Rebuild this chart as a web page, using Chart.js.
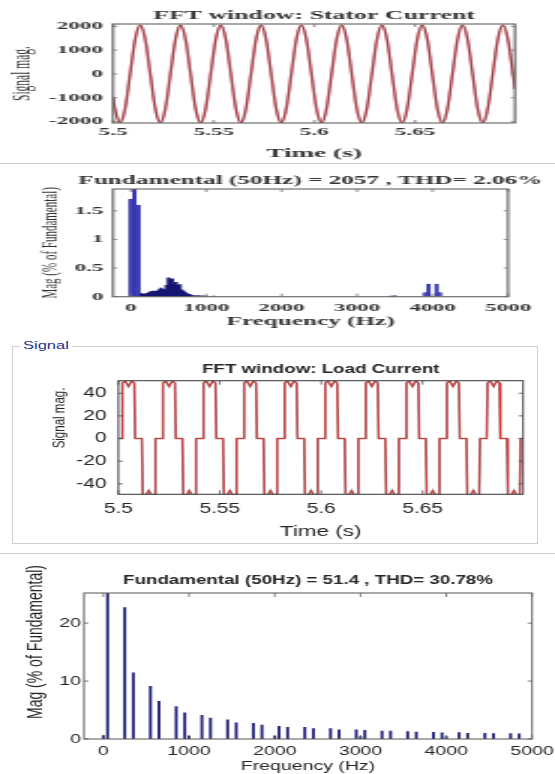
<!DOCTYPE html>
<html>
<head>
<meta charset="utf-8">
<script src="https://cdn.jsdelivr.net/npm/chart.js@4.4.1/dist/chart.umd.min.js"></script>
<style>
  html, body { margin: 0; padding: 0; background: #fff; }
  #page { position: relative; width: 555px; height: 774px; overflow: hidden; background: #fff; }
  canvas { position: absolute; left: 0; transform-origin: 0 0; }
  .rule { position: absolute; left: 0; width: 555px; height: 1px; background: #cbcbcb; }
  #groupbox { position: absolute; left: 12px; top: 346px; width: 526px; height: 198px; border: 1px solid #d0d0d0; box-sizing: border-box; }
  #grouplabel { position: absolute; left: 20px; top: 339px; padding: 0 2px; background: #fff;
    font: 11px "Liberation Sans", Arial, sans-serif; color: #22308a; transform: scaleX(1.5); transform-origin: 0 0; }
</style>
</head>
<body>
<div id="page">
  <div class="rule" style="top:163px"></div>
  <div class="rule" style="top:553px"></div>
  <div id="groupbox"></div>
  <span id="grouplabel">Signal</span>
  <canvas id="stator-signal" width="264" height="165" style="top:0px; transform:scaleX(2.1)"></canvas>
  <canvas id="stator-fft" width="264" height="165" style="top:165px; transform:scaleX(2.1)"></canvas>
  <canvas id="load-signal" width="370" height="195" style="top:350px; transform:scaleX(1.5)"></canvas>
  <canvas id="load-fft" width="370" height="219" style="top:555px; transform:scaleX(1.5)"></canvas>
</div>
<script>
// ============================
// DATA
// ============================

// panel 1 - stator current, time domain (read at 1/8 period steps)
const statorTime = [
  5.5000,
  5.5010, 5.5035, 5.5060, 5.5085, 5.5110, 5.5135, 5.5160, 5.5185,
  5.5210, 5.5235, 5.5260, 5.5285, 5.5310, 5.5335, 5.5360, 5.5385,
  5.5410, 5.5435, 5.5460, 5.5485, 5.5510, 5.5535, 5.5560, 5.5585,
  5.5610, 5.5635, 5.5660, 5.5685, 5.5710, 5.5735, 5.5760, 5.5785,
  5.5810, 5.5835, 5.5860, 5.5885, 5.5910, 5.5935, 5.5960, 5.5985,
  5.6010, 5.6035, 5.6060, 5.6085, 5.6110, 5.6135, 5.6160, 5.6185,
  5.6210, 5.6235, 5.6260, 5.6285, 5.6310, 5.6335, 5.6360, 5.6385,
  5.6410, 5.6435, 5.6460, 5.6485, 5.6510, 5.6535, 5.6560, 5.6585,
  5.6610, 5.6635, 5.6660, 5.6685, 5.6710, 5.6735, 5.6760, 5.6785,
  5.6810, 5.6835, 5.6860, 5.6885, 5.6910, 5.6935, 5.6960, 5.6985,
  5.6995
];
const statorAmp = [
  -960,
  -1455, -2057, -1455, 0, 1455, 2057, 1455, 0,
  -1455, -2057, -1455, 0, 1455, 2057, 1455, 0,
  -1455, -2057, -1455, 0, 1455, 2057, 1455, 0,
  -1455, -2057, -1455, 0, 1455, 2057, 1455, 0,
  -1455, -2057, -1455, 0, 1455, 2057, 1455, 0,
  -1455, -2057, -1455, 0, 1455, 2057, 1455, 0,
  -1455, -2057, -1455, 0, 1455, 2057, 1455, 0,
  -1455, -2057, -1455, 0, 1455, 2057, 1455, 0,
  -1455, -2057, -1455, 0, 1455, 2057, 1455, 0,
  -1455, -2057, -1455, 0, 1455, 2057, 1455, 0,
  -640
];
const timeTicks = [5.5, 5.55, 5.6, 5.65];
const timeLabels = ["5.5", "5.55", "5.6", "5.65"];
const statorAmpTicks = [-2000, -1000, 0, 1000, 2000];
const statorAmpLabels = ["-2000", "-1000", "0", "1000", "2000"];

// panel 2 - stator current spectrum (% of fundamental)
const statorFreqMain = [0, 50, 100, 3900, 3950, 4050, 4100];
const statorMagMain = [1.70, 100, 1.60, 0.07, 0.22, 0.22, 0.07];
const statorFreqLow = [125, 150, 175, 200, 225, 250, 275, 300, 325, 350, 375, 400, 425, 450, 475,
  500, 525, 550, 575, 600, 625, 650, 675, 700, 725, 750, 775, 800, 850, 900, 950, 1000, 1100, 3450, 3500];
const statorMagLow = [0.06, 0.05, 0.04, 0.05, 0.06, 0.08, 0.09, 0.10, 0.09, 0.10, 0.12, 0.15, 0.13, 0.12, 0.20,
  0.33, 0.30, 0.31, 0.22, 0.25, 0.20, 0.21, 0.12, 0.10, 0.07, 0.05, 0.04, 0.03, 0.02, 0.02, 0.015, 0.01, 0.01, 0.01, 0.015];
const freqTicks = [0, 1000, 2000, 3000, 4000, 5000];
const freqLabels = ["0", "1000", "2000", "3000", "4000", "5000"];
const statorMagTicks = [0, 0.5, 1, 1.5];
const statorMagLabels = ["0", "0.5", "1", "1.5"];

// panel 3 - load current, time domain
const loadTime = [
  5.5000,
  5.5016, 5.5020, 5.5033, 5.5050, 5.5066, 5.5079, 5.5083, 5.5116, 5.5120, 5.5133, 5.5150, 5.5166, 5.5179, 5.5183,
  5.5216, 5.5220, 5.5233, 5.5250, 5.5266, 5.5279, 5.5283, 5.5316, 5.5320, 5.5333, 5.5350, 5.5366, 5.5379, 5.5383,
  5.5416, 5.5420, 5.5433, 5.5450, 5.5466, 5.5479, 5.5483, 5.5516, 5.5520, 5.5533, 5.5550, 5.5566, 5.5579, 5.5583,
  5.5616, 5.5620, 5.5633, 5.5650, 5.5666, 5.5679, 5.5683, 5.5716, 5.5720, 5.5733, 5.5750, 5.5766, 5.5779, 5.5783,
  5.5816, 5.5820, 5.5833, 5.5850, 5.5866, 5.5879, 5.5883, 5.5916, 5.5920, 5.5933, 5.5950, 5.5966, 5.5979, 5.5983,
  5.6016, 5.6020, 5.6033, 5.6050, 5.6066, 5.6079, 5.6083, 5.6116, 5.6120, 5.6133, 5.6150, 5.6166, 5.6179, 5.6183,
  5.6216, 5.6220, 5.6233, 5.6250, 5.6266, 5.6279, 5.6283, 5.6316, 5.6320, 5.6333, 5.6350, 5.6366, 5.6379, 5.6383,
  5.6416, 5.6420, 5.6433, 5.6450, 5.6466, 5.6479, 5.6483, 5.6516, 5.6520, 5.6533, 5.6550, 5.6566, 5.6579, 5.6583,
  5.6616, 5.6620, 5.6633, 5.6650, 5.6666, 5.6679, 5.6683, 5.6716, 5.6720, 5.6733, 5.6750, 5.6766, 5.6779, 5.6783,
  5.6816, 5.6820, 5.6833, 5.6850, 5.6866, 5.6879, 5.6883, 5.6916, 5.6920, 5.6933, 5.6950, 5.6966, 5.6979, 5.6983,
  5.6995
];
const loadAmp = [
  0,
  0, 49, 51, 46, 51, 49, 0, 0, -49, -51, -46, -51, -49, 0,
  0, 49, 51, 46, 51, 49, 0, 0, -49, -51, -46, -51, -49, 0,
  0, 49, 51, 46, 51, 49, 0, 0, -49, -51, -46, -51, -49, 0,
  0, 49, 51, 46, 51, 49, 0, 0, -49, -51, -46, -51, -49, 0,
  0, 49, 51, 46, 51, 49, 0, 0, -49, -51, -46, -51, -49, 0,
  0, 49, 51, 46, 51, 49, 0, 0, -49, -51, -46, -51, -49, 0,
  0, 49, 51, 46, 51, 49, 0, 0, -49, -51, -46, -51, -49, 0,
  0, 49, 51, 46, 51, 49, 0, 0, -49, -51, -46, -51, -49, 0,
  0, 49, 51, 46, 51, 49, 0, 0, -49, -51, -46, -51, -49, 0,
  0, 49, 51, 46, 51, 49, 0, 0, -49, -51, -46, -51, -49, 0,
  0
];
const loadAmpTicks = [-40, -20, 0, 20, 40];
const loadAmpLabels = ["-40", "-20", "0", "20", "40"];

// panel 4 - load current spectrum (% of fundamental)
const loadFreq = [0, 50, 250, 350, 550, 650, 850, 950, 1000, 1150, 1250, 1450, 1550, 1750, 1850,
  2000, 2050, 2150, 2350, 2450, 2650, 2750, 2950, 3000, 3050, 3250, 3350, 3550, 3650,
  3850, 3950, 4000, 4150, 4250, 4450, 4550, 4750, 4850];
const loadMag = [0.6, 100, 22.7, 11.4, 9.1, 6.5, 5.6, 4.5, 0.5, 4.1, 3.6, 3.3, 2.8, 2.7, 2.4,
  0.5, 2.2, 2.0, 2.0, 1.8, 1.8, 1.6, 1.6, 0.4, 1.5, 1.35, 1.35, 1.3, 1.2,
  1.15, 1.05, 0.4, 1.1, 1.0, 1.0, 0.95, 0.95, 0.9];
const loadMagTicks = [0, 10, 20];
const loadMagLabels = ["0", "10", "20"];

// ============================
// HELPERS
// ============================

const SERIF = "'Liberation Serif', 'Times New Roman', serif";
const SANS = "'Liberation Sans', Arial, sans-serif";

function toPoints(xs, ys) {
  return xs.map((x, i) => ({ x, y: ys[i] }));
}

// MATLAB style frame with inward ticks on all four sides
const matlabBox = {
  id: "matlabBox",
  afterDatasetsDraw(chart, args, opts) {
    const { ctx, chartArea: a } = chart;
    const x = chart.scales.x;
    const y = chart.scales.y;
    ctx.save();
    ctx.strokeStyle = opts.color;
    ctx.lineWidth = opts.width;
    ctx.strokeRect(a.left, a.top, a.right - a.left, a.bottom - a.top);
    ctx.lineWidth = opts.tickWidth;
    ctx.beginPath();
    x.ticks.forEach(t => {
      const px = x.getPixelForValue(t.value);
      ctx.moveTo(px, a.bottom);
      ctx.lineTo(px, a.bottom - opts.tickY);
      ctx.moveTo(px, a.top);
      ctx.lineTo(px, a.top + opts.tickY);
    });
    y.ticks.forEach(t => {
      const py = y.getPixelForValue(t.value);
      ctx.moveTo(a.left, py);
      ctx.lineTo(a.left + opts.tickX, py);
      ctx.moveTo(a.right, py);
      ctx.lineTo(a.right - opts.tickX, py);
    });
    ctx.stroke();
    ctx.restore();
  }
};

// title and y label drawn as free text, MATLAB places them a bit off the chart.js spots
function textPlugin(items) {
  return {
    id: "panelText",
    afterDraw(chart) {
      const { ctx, chartArea: a } = chart;
      items.forEach(item => {
        ctx.save();
        ctx.font = item.font;
        ctx.fillStyle = item.color;
        ctx.textAlign = "center";
        ctx.textBaseline = "middle";
        const x = item.x === "center" ? (a.left + a.right) / 2 : item.x;
        const y = item.y === "middle" ? (a.top + a.bottom) / 2 : item.y;
        ctx.translate(x, y);
        if (item.rotate) ctx.rotate(-Math.PI / 2);
        ctx.fillText(item.text, 0, 0);
        ctx.restore();
      });
    }
  };
}

function makePanel(id, cfg) {
  return new Chart(document.getElementById(id), {
    type: cfg.type,
    data: { datasets: cfg.datasets },
    options: {
      responsive: false,
      animation: false,
      events: [],
      layout: { padding: { left: 0, right: cfg.padRight, top: cfg.padTop, bottom: 0 } },
      plugins: {
        legend: { display: false },
        tooltip: { enabled: false },
        title: { display: false },
        matlabBox: cfg.box
      },
      scales: {
        x: {
          type: "linear",
          offset: false,
          min: cfg.xMin,
          max: cfg.xMax,
          afterBuildTicks: s => { s.ticks = cfg.xTicks.map(v => ({ value: v })); },
          afterFit: s => { s.height = cfg.xHeight; s.paddingLeft = 0; s.paddingRight = 0; },
          grid: { display: false, drawTicks: false },
          border: { display: false },
          ticks: {
            autoSkip: false,
            maxRotation: 0,
            padding: cfg.xTickPad,
            color: cfg.color,
            font: cfg.tickFont,
            callback: (v, i) => cfg.xLabels[i]
          },
          title: {
            display: true,
            text: cfg.xTitle,
            color: cfg.color,
            font: cfg.xTitleFont,
            padding: { top: 0, bottom: cfg.xTitlePad }
          }
        },
        y: {
          min: cfg.yMin,
          max: cfg.yMax,
          afterBuildTicks: s => { s.ticks = cfg.yTicks.map(v => ({ value: v })); },
          afterFit: s => { s.width = cfg.yWidth; s.paddingTop = 0; s.paddingBottom = 0; },
          grid: { display: false, drawTicks: false },
          border: { display: false },
          ticks: {
            padding: cfg.yTickPad,
            color: cfg.color,
            font: cfg.tickFont,
            callback: (v, i) => cfg.yLabels[i]
          },
          title: { display: false }
        }
      }
    },
    plugins: [matlabBox, textPlugin(cfg.texts)]
  });
}

// ============================
// PANEL 1 - STATOR CURRENT
// ============================

makePanel("stator-signal", {
  type: "line",
  datasets: [
    {
      data: toPoints(statorTime, statorAmp),
      borderColor: "#4d3a3c",
      borderWidth: 0.6,
      pointRadius: 0,
      cubicInterpolationMode: "monotone"
    },
    {
      data: toPoints(statorTime, statorAmp),
      borderColor: "rgba(228, 58, 70, 0.85)",
      borderWidth: 1.4,
      pointRadius: 0,
      cubicInterpolationMode: "monotone"
    }
  ],
  padRight: 18.8,
  padTop: 24,
  color: "#333",
  texts: [
    { text: "FFT window: Stator Current", x: "center", y: 16, font: "bold 12.3px " + SERIF, color: "#333" },
    { text: "Signal mag.", x: 10.5, y: "middle", rotate: true, font: "11.5px " + SERIF, color: "#333" }
  ],
  box: { color: "#6e6e6e", width: 1.2, tickWidth: 0.8, tickX: 2, tickY: 3 },
  xMin: 5.5, xMax: 5.6995,
  xTicks: timeTicks, xLabels: timeLabels,
  xHeight: 42, xTickPad: 2.4,
  tickFont: { family: SERIF, size: 11, weight: "bold" },
  xTitle: "Time (s)",
  xTitleFont: { family: SERIF, size: 13, weight: "bold" },
  xTitlePad: 3.2,
  yMin: -2060, yMax: 2100,
  yTicks: statorAmpTicks, yLabels: statorAmpLabels,
  yWidth: 53.8, yTickPad: 4.8
});

// ============================
// PANEL 2 - STATOR SPECTRUM
// ============================

makePanel("stator-fft", {
  type: "bar",
  datasets: [
    {
      data: toPoints(statorFreqMain, statorMagMain),
      backgroundColor: "#4545c4",
      borderColor: "#1b1b80",
      borderWidth: 0.4,
      barThickness: 1.5,
      grouped: false
    },
    {
      data: toPoints(statorFreqLow, statorMagLow),
      backgroundColor: "#161673",
      barThickness: 1.1,
      grouped: false
    }
  ],
  padRight: 22.1,
  padTop: 24,
  color: "#333",
  texts: [
    { text: "Fundamental (50Hz) = 2057 , THD= 2.06%", x: "center", y: 16, font: "bold 12px " + SERIF, color: "#333" },
    { text: "Mag (% of Fundamental)", x: 23.8, y: "middle", rotate: true, font: "11px " + SERIF, color: "#333" }
  ],
  box: { color: "#6e6e6e", width: 1.2, tickWidth: 0.8, tickX: 2, tickY: 3 },
  xMin: -235, xMax: 5000,
  xTicks: freqTicks, xLabels: freqLabels,
  xHeight: 33.3, xTickPad: 4.7,
  tickFont: { family: SERIF, size: 11, weight: "bold" },
  xTitle: "Frequency (Hz)",
  xTitleFont: { family: SERIF, size: 12, weight: "bold" },
  xTitlePad: 0.8,
  yMin: 0, yMax: 1.88,
  yTicks: statorMagTicks, yLabels: statorMagLabels,
  yWidth: 53.8, yTickPad: 4.6
});

// ============================
// PANEL 3 - LOAD CURRENT
// ============================

makePanel("load-signal", {
  type: "line",
  datasets: [
    {
      data: toPoints(loadTime, loadAmp),
      borderColor: "#e82a2e",
      borderWidth: 0.9,
      pointRadius: 0,
      tension: 0
    },
    {
      data: toPoints(loadTime, loadAmp),
      borderColor: "rgba(60, 45, 45, 0.6)",
      borderWidth: 1.7,
      pointRadius: 0,
      tension: 0
    }
  ],
  padRight: 21.3,
  padTop: 30.7,
  color: "#262626",
  texts: [
    { text: "FFT window: Load Current", x: "center", y: 20, font: "bold 12.5px " + SANS, color: "#262626" },
    { text: "Signal mag.", x: 39.7, y: 68, rotate: true, font: "11.5px " + SANS, color: "#262626" }
  ],
  box: { color: "#454545", width: 1.1, tickWidth: 0.8, tickX: 3, tickY: 4 },
  xMin: 5.5, xMax: 5.6995,
  xTicks: timeTicks, xLabels: timeLabels,
  xHeight: 50.7, xTickPad: 6.3,
  tickFont: { family: SANS, size: 14 },
  xTitle: "Time (s)",
  xTitleFont: { family: SANS, size: 15 },
  xTitlePad: 4,
  yMin: -49.3, yMax: 51.1,
  yTicks: loadAmpTicks, yLabels: loadAmpLabels,
  yWidth: 78.9, yTickPad: 7.8
});

// ============================
// PANEL 4 - LOAD SPECTRUM
// ============================

makePanel("load-fft", {
  type: "bar",
  datasets: [
    {
      data: toPoints(loadFreq, loadMag),
      backgroundColor: "#26267c",
      barThickness: 1.3,
      grouped: false
    }
  ],
  padRight: 15.3,
  padTop: 38,
  color: "#262626",
  texts: [
    { text: "Fundamental (50Hz) = 51.4 , THD= 30.78%", x: "center", y: 26, font: "bold 12.5px " + SANS, color: "#262626" },
    { text: "Mag (% of Fundamental)", x: 24, y: 87, rotate: true, font: "14px " + SANS, color: "#262626" }
  ],
  box: { color: "#555", width: 1, tickWidth: 0.8, tickX: 3, tickY: 4 },
  xMin: -225, xMax: 5000,
  xTicks: freqTicks, xLabels: freqLabels,
  xHeight: 35, xTickPad: 4.6,
  tickFont: { family: SANS, size: 13 },
  xTitle: "Frequency (Hz)",
  xTitleFont: { family: SANS, size: 13 },
  xTitlePad: 0.2,
  yMin: 0, yMax: 25.2,
  yTicks: loadMagTicks, yLabels: loadMagLabels,
  yWidth: 56, yTickPad: 2
});
</script>
</body>
</html>
